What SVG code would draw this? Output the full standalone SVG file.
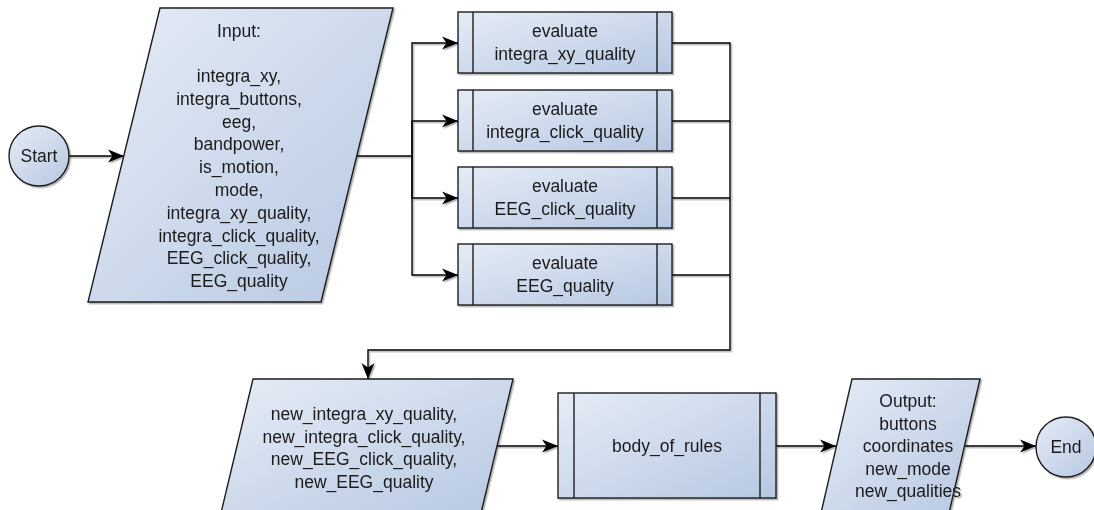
<svg xmlns="http://www.w3.org/2000/svg" width="1094" height="510" viewBox="0 0 1094 510">
  <defs>
    <linearGradient id="fill" x1="0" y1="0" x2="1" y2="1">
      <stop offset="0" stop-color="#e6ecf6"/>
      <stop offset="1" stop-color="#b6c8e2"/>
    </linearGradient>
    <filter id="shadow" x="-5%" y="-5%" width="115%" height="115%">
      <feDropShadow dx="1.5" dy="1.5" stdDeviation="0.6" flood-color="#000" flood-opacity="0.3"/>
    </filter>
    <marker id="arrow" markerWidth="18" markerHeight="14" refX="16" refY="7" orient="auto" markerUnits="userSpaceOnUse">
      <path d="M0,0.5 L16,7 L0,13.5 L4.5,7 Z" fill="#000"/>
    </marker>
    <style>
      .shape { fill: url(#fill); stroke: #1e1e1e; stroke-width: 1.4; }
      .bar { fill: none; stroke: #1e1e1e; stroke-width: 1.4; }
      .edge { fill: none; stroke: #000; stroke-width: 1.4; }
      .lbl { font-family: "Liberation Sans", Arial, sans-serif; font-size: 17.5px; fill: #1a1a1a; text-anchor: middle; }
    </style>
  </defs>

  <rect width="1094" height="510" fill="#fff"/>

  <!-- connectors -->
  <g id="connectors" filter="url(#shadow)">
    <path class="edge" d="M69,156 H124" marker-end="url(#arrow)"/>
    <path class="edge" d="M357,156 H412 V43 H458" marker-end="url(#arrow)"/>
    <path class="edge" d="M412,156 V121 H458" marker-end="url(#arrow)"/>
    <path class="edge" d="M412,156 V198 H458" marker-end="url(#arrow)"/>
    <path class="edge" d="M412,156 V275 H458" marker-end="url(#arrow)"/>
    <path class="edge" d="M672,43 H730 V350 H368 V379" marker-end="url(#arrow)"/>
    <path class="edge" d="M672,121 H730"/>
    <path class="edge" d="M672,198 H730"/>
    <path class="edge" d="M672,275 H730"/>
    <path class="edge" d="M497,446 H558" marker-end="url(#arrow)"/>
    <path class="edge" d="M776,446 H836" marker-end="url(#arrow)"/>
    <path class="edge" d="M965,446 H1036" marker-end="url(#arrow)"/>
  </g>

  <!-- start terminal -->
  <g id="start" filter="url(#shadow)">
    <circle class="shape" cx="39" cy="156" r="30"/>
    <text class="lbl" x="39" y="162">Start</text>
  </g>

  <!-- input data -->
  <g id="input" filter="url(#shadow)">
    <polygon class="shape" points="160,8 393,8 321,302 88,302"/>
    <text class="lbl" x="239" y="37">Input:</text>
    <text class="lbl" x="239" y="82">integra_xy,</text>
    <text class="lbl" x="239" y="104.8">integra_buttons,</text>
    <text class="lbl" x="239" y="127.6">eeg,</text>
    <text class="lbl" x="239" y="150.4">bandpower,</text>
    <text class="lbl" x="239" y="173.2">is_motion,</text>
    <text class="lbl" x="239" y="196">mode,</text>
    <text class="lbl" x="239" y="218.8">integra_xy_quality,</text>
    <text class="lbl" x="239" y="241.6">integra_click_quality,</text>
    <text class="lbl" x="239" y="264.4">EEG_click_quality,</text>
    <text class="lbl" x="239" y="287.2">EEG_quality</text>
  </g>

  <!-- evaluation subprocesses -->
  <g id="eval-xy" filter="url(#shadow)">
    <rect class="shape" x="458" y="12" width="214" height="61"/>
    <path class="bar" d="M473,12 V73 M657,12 V73"/>
    <text class="lbl" x="565" y="37">evaluate</text>
    <text class="lbl" x="565" y="60">integra_xy_quality</text>
  </g>
  <g id="eval-click" filter="url(#shadow)">
    <rect class="shape" x="458" y="90" width="214" height="61"/>
    <path class="bar" d="M473,90 V151 M657,90 V151"/>
    <text class="lbl" x="565" y="115">evaluate</text>
    <text class="lbl" x="565" y="138">integra_click_quality</text>
  </g>
  <g id="eval-eeg-click" filter="url(#shadow)">
    <rect class="shape" x="458" y="167" width="214" height="61"/>
    <path class="bar" d="M473,167 V228 M657,167 V228"/>
    <text class="lbl" x="565" y="192">evaluate</text>
    <text class="lbl" x="565" y="215">EEG_click_quality</text>
  </g>
  <g id="eval-eeg" filter="url(#shadow)">
    <rect class="shape" x="458" y="244" width="214" height="61"/>
    <path class="bar" d="M473,244 V305 M657,244 V305"/>
    <text class="lbl" x="565" y="269">evaluate</text>
    <text class="lbl" x="565" y="292">EEG_quality</text>
  </g>

  <!-- new qualities data -->
  <g id="new-qualities" filter="url(#shadow)">
    <polygon class="shape" points="253,379 513,379 481,513 221,513"/>
    <text class="lbl" x="364" y="420">new_integra_xy_quality,</text>
    <text class="lbl" x="364" y="442.6">new_integra_click_quality,</text>
    <text class="lbl" x="364" y="465.2">new_EEG_click_quality,</text>
    <text class="lbl" x="364" y="487.8">new_EEG_quality</text>
  </g>

  <!-- rules subprocess -->
  <g id="body-of-rules" filter="url(#shadow)">
    <rect class="shape" x="558" y="393" width="218" height="105"/>
    <path class="bar" d="M574,393 V498 M760,393 V498"/>
    <text class="lbl" x="667" y="452">body_of_rules</text>
  </g>

  <!-- output data -->
  <g id="output" filter="url(#shadow)">
    <polygon class="shape" points="852,379 980,379 949,513 821,513"/>
    <text class="lbl" x="908" y="407">Output:</text>
    <text class="lbl" x="908" y="429.6">buttons</text>
    <text class="lbl" x="908" y="452.2">coordinates</text>
    <text class="lbl" x="908" y="474.8">new_mode</text>
    <text class="lbl" x="908" y="497.4">new_qualities</text>
  </g>

  <!-- end terminal -->
  <g id="end" filter="url(#shadow)">
    <circle class="shape" cx="1066" cy="447" r="30"/>
    <text class="lbl" x="1066" y="453">End</text>
  </g>
</svg>
